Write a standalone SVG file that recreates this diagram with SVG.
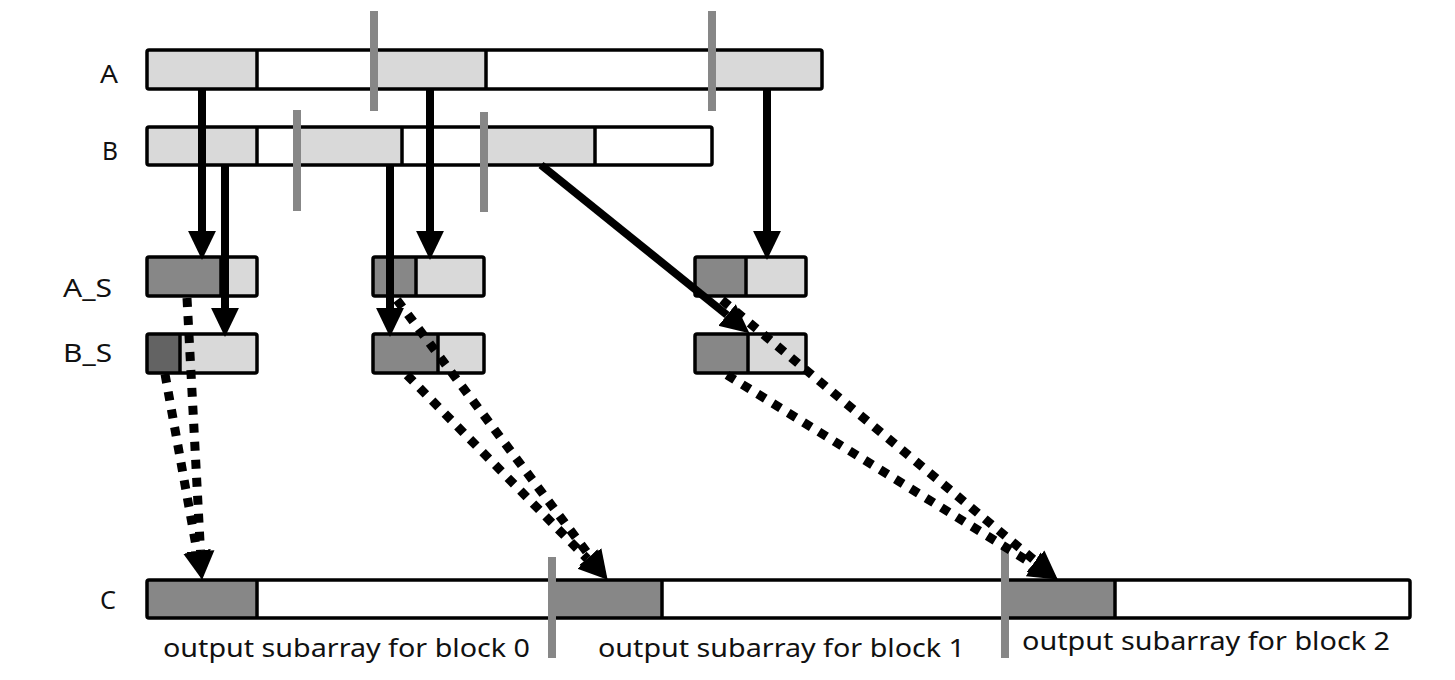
<svg xmlns="http://www.w3.org/2000/svg" width="1455" height="680" viewBox="0 0 1455 680">
<style>
  .lbl { font-family: "Noto Sans", "Liberation Sans", sans-serif; font-size: 26px; fill: #111; }
  .cap { font-family: "Noto Sans", "Liberation Sans", sans-serif; font-size: 26px; fill: #111; }
  .frame { fill: none; stroke: #000; stroke-width: 3.5; }
  .wh { fill: #ffffff; }
  .lt { fill: #d9d9d9; }
  .dk { fill: #878787; }
  .dk2 { fill: #636363; }
  .div { stroke: #000; stroke-width: 3.5; }
  .mk { fill: #878787; }
  .solid { fill: none; stroke: #000; stroke-width: 8; marker-end: url(#head); }
  .dotted { fill: none; stroke: #000; stroke-width: 9; stroke-dasharray: 9 9; marker-end: url(#head); }
</style>
<defs>
  <marker id="head" markerUnits="userSpaceOnUse" markerWidth="30" markerHeight="30" viewBox="0 -14 28 28" refX="0" refY="0" orient="auto">
    <path d="M0,-13 L27,0 L0,13 Z" fill="#000"/>
  </marker>
</defs>
<rect width="1455" height="680" fill="#ffffff"/>

<g id="labels">
  <text class="lbl" x="100" y="83" textLength="18" lengthAdjust="spacingAndGlyphs">A</text>
  <text class="lbl" x="102" y="160" textLength="16" lengthAdjust="spacingAndGlyphs">B</text>
  <text class="lbl" x="63" y="297" textLength="49" lengthAdjust="spacingAndGlyphs">A_S</text>
  <text class="lbl" x="63" y="362" textLength="49" lengthAdjust="spacingAndGlyphs">B_S</text>
  <text class="lbl" x="100" y="609" textLength="16" lengthAdjust="spacingAndGlyphs">C</text>
</g>

<g id="A">
  <rect class="wh" x="147" y="50" width="675" height="39"/>
  <rect class="lt" x="147" y="50" width="110" height="39"/>
  <rect class="lt" x="374" y="50" width="112" height="39"/>
  <rect class="lt" x="712" y="50" width="110" height="39"/>
  <line class="div" x1="257" y1="50" x2="257" y2="89"/>
  <line class="div" x1="486" y1="50" x2="486" y2="89"/>
  <rect class="frame" x="147" y="50" width="675" height="39" rx="2"/>
  <rect class="mk" x="370" y="11" width="8" height="100"/>
  <rect class="mk" x="708" y="11" width="8" height="100"/>
</g>

<g id="B">
  <rect class="wh" x="147" y="127" width="565" height="38"/>
  <rect class="lt" x="147" y="127" width="110" height="38"/>
  <rect class="lt" x="297" y="127" width="105" height="38"/>
  <rect class="lt" x="484" y="127" width="111" height="38"/>
  <line class="div" x1="257" y1="127" x2="257" y2="165"/>
  <line class="div" x1="402" y1="127" x2="402" y2="165"/>
  <line class="div" x1="595" y1="127" x2="595" y2="165"/>
  <rect class="frame" x="147" y="127" width="565" height="38" rx="2"/>
  <rect class="mk" x="293" y="110" width="8" height="101"/>
  <rect class="mk" x="480" y="112" width="8" height="100"/>
</g>

<g id="AS0">
  <rect class="lt" x="147" y="257" width="110" height="39"/>
  <rect class="dk" x="147" y="257" width="74" height="39"/>
  <line class="div" x1="221" y1="257" x2="221" y2="296"/>
  <rect class="frame" x="147" y="257" width="110" height="39" rx="2"/>
</g>
<g id="AS1">
  <rect class="lt" x="373" y="257" width="111" height="39"/>
  <rect class="dk" x="373" y="257" width="43" height="39"/>
  <line class="div" x1="416" y1="257" x2="416" y2="296"/>
  <rect class="frame" x="373" y="257" width="111" height="39" rx="2"/>
</g>
<g id="AS2">
  <rect class="lt" x="695" y="257" width="111" height="39"/>
  <rect class="dk" x="695" y="257" width="51" height="39"/>
  <line class="div" x1="746" y1="257" x2="746" y2="296"/>
  <rect class="frame" x="695" y="257" width="111" height="39" rx="2"/>
</g>

<g id="BS0">
  <rect class="lt" x="147" y="334" width="110" height="39"/>
  <rect class="dk2" x="147" y="334" width="33" height="39"/>
  <line class="div" x1="180" y1="334" x2="180" y2="373"/>
  <rect class="frame" x="147" y="334" width="110" height="39" rx="2"/>
</g>
<g id="BS1">
  <rect class="lt" x="373" y="334" width="111" height="39"/>
  <rect class="dk" x="373" y="334" width="65" height="39"/>
  <line class="div" x1="438" y1="334" x2="438" y2="373"/>
  <rect class="frame" x="373" y="334" width="111" height="39" rx="2"/>
</g>
<g id="BS2">
  <rect class="lt" x="695" y="334" width="111" height="39"/>
  <rect class="dk" x="695" y="334" width="53" height="39"/>
  <line class="div" x1="748" y1="334" x2="748" y2="373"/>
  <rect class="frame" x="695" y="334" width="111" height="39" rx="2"/>
</g>

<g id="C">
  <rect class="wh" x="147" y="580" width="1263" height="38"/>
  <rect class="dk" x="147" y="580" width="110" height="38"/>
  <rect class="dk" x="551" y="580" width="111" height="38"/>
  <rect class="dk" x="1005" y="580" width="110" height="38"/>
  <line class="div" x1="257" y1="580" x2="257" y2="618"/>
  <line class="div" x1="662" y1="580" x2="662" y2="618"/>
  <line class="div" x1="1115" y1="580" x2="1115" y2="618"/>
  <rect class="frame" x="147" y="580" width="1263" height="38" rx="2"/>
  <rect class="mk" x="548" y="557" width="8" height="101"/>
  <rect class="mk" x="1001" y="547" width="8" height="111"/>
  <text class="cap" x="163" y="657" textLength="367" lengthAdjust="spacingAndGlyphs">output subarray for block 0</text>
  <text class="cap" x="598" y="657" textLength="367" lengthAdjust="spacingAndGlyphs">output subarray for block 1</text>
  <text class="cap" x="1022" y="650" textLength="368" lengthAdjust="spacingAndGlyphs">output subarray for block 2</text>
</g>

<g id="connectors">
  <line class="solid" x1="202" y1="89" x2="202" y2="231"/>
  <line class="solid" x1="225" y1="165" x2="225" y2="308"/>
  <line class="solid" x1="390" y1="165" x2="390" y2="308"/>
  <line class="solid" x1="430" y1="89" x2="430" y2="231"/>
  <line class="solid" x1="767" y1="89" x2="767" y2="231"/>
  <line class="solid" x1="541" y1="165" x2="727" y2="315"/>

  <line class="dotted" x1="187" y1="298" x2="200.5" y2="551"/>
  <line class="dotted" x1="165" y1="374" x2="197" y2="551.4"/>
  <line class="dotted" x1="397" y1="300" x2="590.2" y2="556.6"/>
  <line class="dotted" x1="407" y1="375" x2="587.4" y2="559"/>
  <line class="dotted" x1="722" y1="300" x2="1035.5" y2="561.1"/>
  <line class="dotted" x1="727" y1="375" x2="1033.2" y2="564.3"/>
</g>
</svg>
